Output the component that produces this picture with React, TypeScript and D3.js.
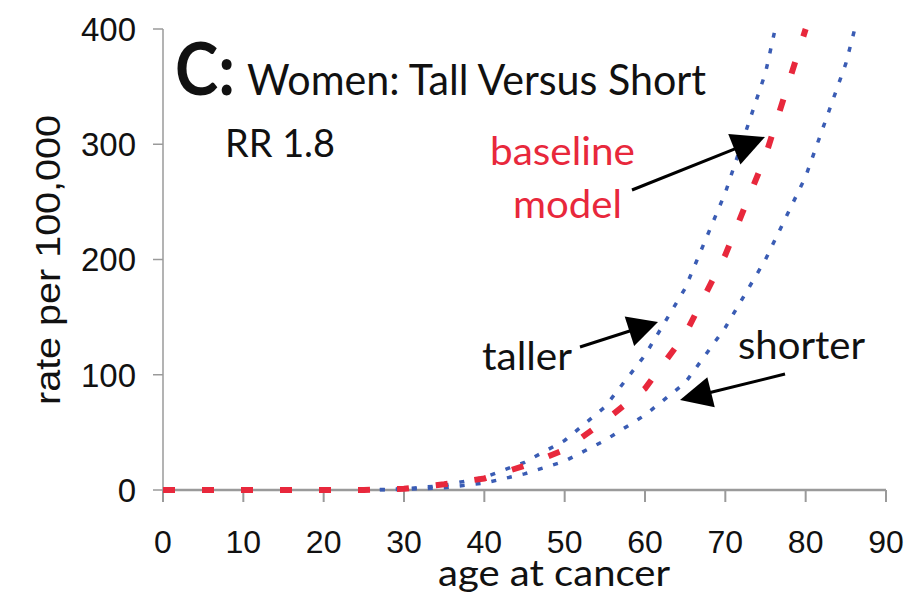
import React from "react";
import * as d3 from "d3";

const xTicks = [0, 10, 20, 30, 40, 50, 60, 70, 80, 90];
const yTicks = [0, 100, 200, 300, 400];

const baselineAges = [0, 5, 10, 15, 20, 25, 30, 35, 40, 45, 50, 55, 60, 65, 70, 75, 80];
const baselineRates = [0, 0, 0, 0, 0, 0, 1, 5, 10, 21, 35, 60, 88, 135, 204, 290, 400];

const tallerAges = [25, 30, 35, 40, 45, 50, 55, 60, 65, 70, 75, 80];
const tallerRates = [0, 1, 4, 11, 24, 43, 72, 117, 175, 258, 362, 520];

const shorterAges = [25, 30, 35, 40, 45, 50, 55, 60, 65, 70, 75, 80, 85, 90];
const shorterRates = [0, 0.5, 2, 6, 14, 25, 43, 65, 93, 141, 200, 272, 370, 505];

const W = 912;
const H = 595;
const RED = "#e8283c";
const BLUE = "#3a5cb4";
const AXIS = "#9a9a9a";
const TICKFONT = "'Liberation Sans', Arial, sans-serif";
const TEXTFONT = "Lato, 'Open Sans', sans-serif";

function Arrow({ x1, y1, x2, y2, len = 32, wid = 32 }: { x1: number; y1: number; x2: number; y2: number; len?: number; wid?: number }) {
  const dx = x2 - x1;
  const dy = y2 - y1;
  const d = Math.hypot(dx, dy);
  const ux = dx / d;
  const uy = dy / d;
  const bx = x2 - ux * len;
  const by = y2 - uy * len;
  const px = -uy * (wid / 2);
  const py = ux * (wid / 2);
  return (
    <g>
      <line x1={x1} y1={y1} x2={bx + ux * 2} y2={by + uy * 2} stroke="#000" strokeWidth={3} />
      <polygon points={`${x2},${y2} ${bx + px},${by + py} ${bx - px},${by - py}`} fill="#000" />
    </g>
  );
}

export default function App() {
  const x = d3.scaleLinear().domain([0, 90]).range([163, 886]);
  const y = d3.scaleLinear().domain([0, 400]).range([490, 29]);
  const line = d3
    .line<[number, number]>()
    .x((d) => x(d[0]))
    .y((d) => y(d[1]));

  const mk = (ages: number[], rates: number[]) => ages.map((a, i) => [a, rates[i]] as [number, number]);

  return (
    <svg width={W} height={H} style={{ position: "absolute", left: 0, top: 0, background: "#fff" }}>
      <defs>
        <clipPath id="plot">
          <rect x={x(0)} y={y(400) - 2} width={x(90) - x(0) + 2} height={y(0) - y(400) + 6} />
        </clipPath>
      </defs>
      <rect width={W} height={H} fill="#fff" />

      {/* y axis */}
      <line x1={x(0)} y1={y(400)} x2={x(0)} y2={y(0)} stroke={AXIS} strokeWidth={1.5} />
      {yTicks.map((t) => (
        <g key={"y" + t}>
          <line x1={x(0) - 10} x2={x(0)} y1={y(t)} y2={y(t)} stroke={AXIS} strokeWidth={1.5} />
          <text x={136} y={y(t)} dy="0.36em" textAnchor="end" fontFamily={TICKFONT} fontSize={33} fill="#111">
            {t}
          </text>
        </g>
      ))}

      {/* x axis */}
      <line x1={x(0)} y1={y(0)} x2={x(90)} y2={y(0)} stroke={AXIS} strokeWidth={2.5} />
      {xTicks.map((t) => (
        <g key={"x" + t}>
          <line x1={x(t)} x2={x(t)} y1={y(0)} y2={y(0) + 12} stroke={AXIS} strokeWidth={2} />
          <text x={x(t)} y={553} textAnchor="middle" fontFamily={TICKFONT} fontSize={32} fill="#111">
            {t}
          </text>
        </g>
      ))}

      {/* series */}
      <g clipPath="url(#plot)">
        <path d={line(mk(shorterAges, shorterRates)) || ""} fill="none" stroke={BLUE} strokeWidth={3.5} strokeDasharray="5 11" />
        <path d={line(mk(tallerAges, tallerRates)) || ""} fill="none" stroke={BLUE} strokeWidth={3.5} strokeDasharray="5 11" />
        <path d={line(mk(baselineAges, baselineRates)) || ""} fill="none" stroke={RED} strokeWidth={6} strokeDasharray="12 27" />
      </g>

      {/* axis titles */}
      <text x={438} y={586} fontFamily={TEXTFONT} fontSize={37} fill="#111" textLength={232} lengthAdjust="spacingAndGlyphs">
        age at cancer
      </text>
      <text
        transform="translate(60,260) rotate(-90)"
        textAnchor="middle"
        fontFamily={TICKFONT}
        fontSize={35}
        fill="#111"
        textLength={290}
        lengthAdjust="spacingAndGlyphs"
      >
        rate per 100,000
      </text>

      {/* titles */}
      <text x={175} y={95} fontFamily={TEXTFONT} fontWeight={700} fontSize={72} fill="#111" textLength={60} lengthAdjust="spacingAndGlyphs">
        C:
      </text>
      <text x={247} y={95} fontFamily={TEXTFONT} fontSize={42} fill="#111" textLength={459} lengthAdjust="spacingAndGlyphs">
        Women: Tall Versus Short
      </text>
      <text x={225} y={157} fontFamily={TEXTFONT} fontSize={38} fill="#111" textLength={110} lengthAdjust="spacingAndGlyphs">
        RR 1.8
      </text>

      {/* annotations */}
      <text x={490} y={165} fontFamily={TEXTFONT} fontSize={38} fill={RED} textLength={145} lengthAdjust="spacingAndGlyphs">
        baseline
      </text>
      <text x={513} y={218} fontFamily={TEXTFONT} fontSize={38} fill={RED} textLength={109} lengthAdjust="spacingAndGlyphs">
        model
      </text>
      <text x={482} y={370} fontFamily={TEXTFONT} fontSize={38} fill="#111" textLength={90} lengthAdjust="spacingAndGlyphs">
        taller
      </text>
      <text x={738} y={359} fontFamily={TEXTFONT} fontSize={38} fill="#111" textLength={127} lengthAdjust="spacingAndGlyphs">
        shorter
      </text>

      <Arrow x1={632} y1={190} x2={765} y2={137} len={33} wid={33} />
      <Arrow x1={580} y1={347} x2={658} y2={322} len={30} wid={31} />
      <Arrow x1={785} y1={374} x2={680} y2={400} len={32} wid={31} />
    </svg>
  );
}
